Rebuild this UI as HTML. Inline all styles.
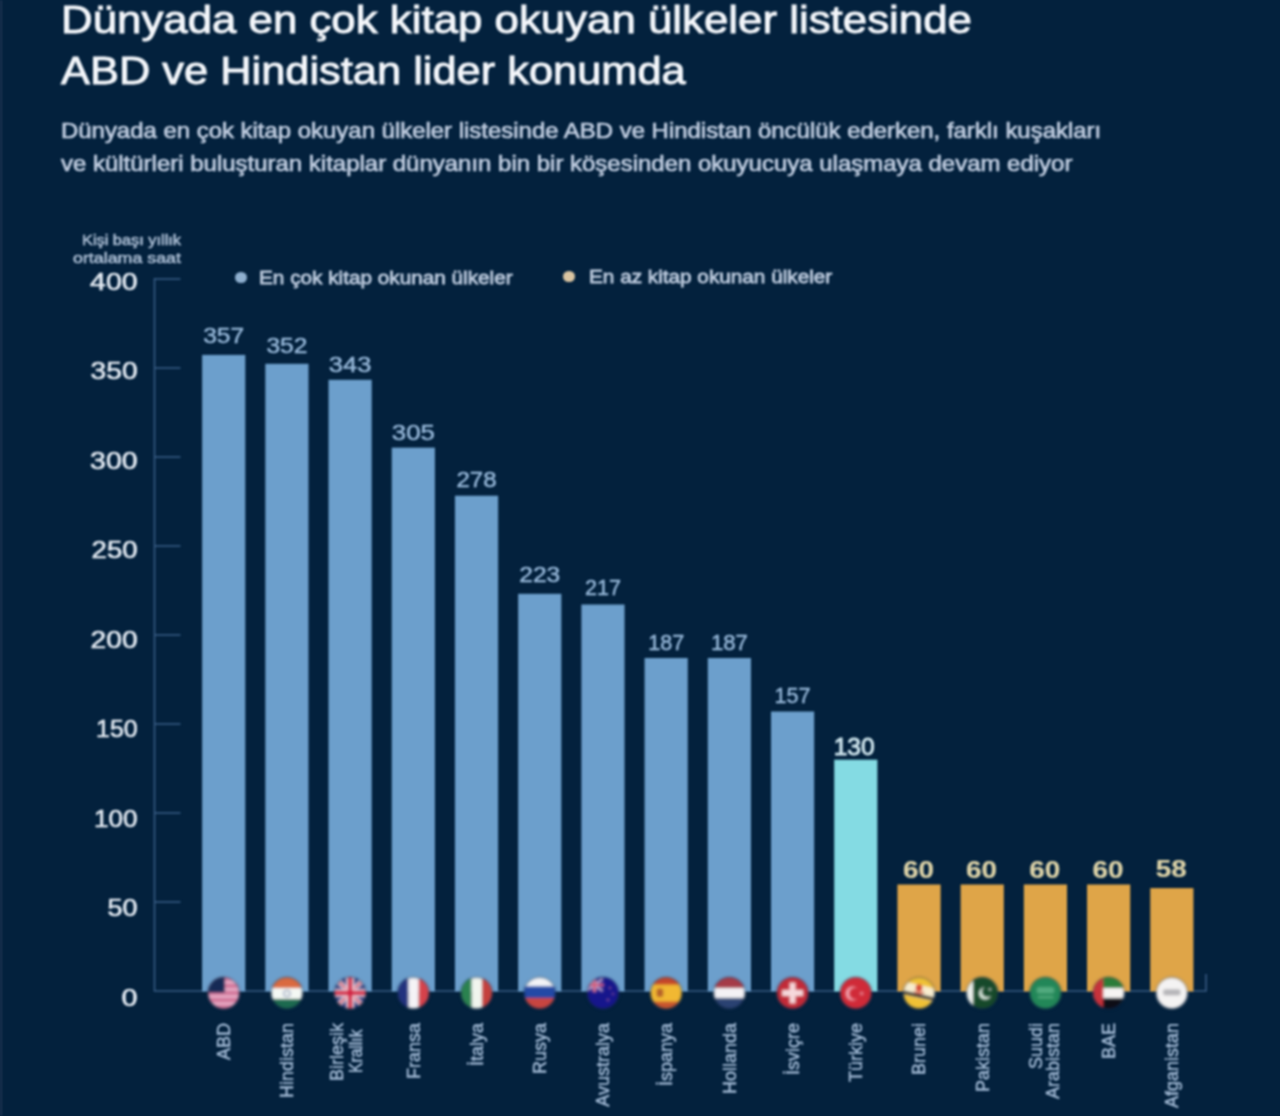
<!DOCTYPE html>
<html lang="tr">
<head>
<meta charset="utf-8">
<title>Dünyada en çok kitap okuyan ülkeler</title>
<style>
html,body{margin:0;padding:0;background:#03213d;}
body{width:1280px;height:1116px;overflow:hidden;position:relative;font-family:"Liberation Sans", sans-serif;}
#pg{position:absolute;left:0;top:0;width:1280px;height:1116px;filter:blur(0.9px);}
.abs{position:absolute;white-space:nowrap;transform-origin:0 0;}
.title{left:61px;font-size:38px;line-height:44px;color:#f4f7fb;-webkit-text-stroke:0.9px #f4f7fb;transform:scaleX(1.153);}
.sub{left:61px;font-size:21.5px;line-height:26px;color:#c0cde0;-webkit-text-stroke:0.7px #c0cde0;}
.leg{font-size:18.5px;line-height:22px;color:#bccadd;-webkit-text-stroke:0.8px #bccadd;}
.dot{position:absolute;width:11.5px;height:11.5px;border-radius:50%;}
svg{position:absolute;left:0;top:0;}
svg text{font-family:"Liberation Sans", sans-serif;}
</style>
</head>
<body>
<div id="pg">
<div class="abs" style="left:0;top:0;width:2px;height:1116px;background:#1e3450;"></div>
<div class="abs title" style="top:-2.5px;">Dünyada en çok kitap okuyan ülkeler listesinde</div>
<div class="abs title" style="top:48.5px;transform:scaleX(1.142);">ABD ve Hindistan lider konumda</div>
<div class="abs sub" style="top:117.5px;transform:scaleX(1.113);">Dünyada en çok kitap okuyan ülkeler listesinde ABD ve Hindistan öncülük ederken, farklı kuşakları</div>
<div class="abs sub" style="top:150.5px;transform:scaleX(1.115);">ve kültürleri buluşturan kitaplar dünyanın bin bir köşesinden okuyucuya ulaşmaya devam ediyor</div>
<div class="dot" style="left:235.3px;top:271.8px;background:#8fb0d0;"></div>
<div class="abs leg" style="left:259px;top:266.8px;transform:scaleX(1.121);">En çok kitap okunan ülkeler</div>
<div class="dot" style="left:563.3px;top:270.8px;background:#dac5a2;"></div>
<div class="abs leg" style="left:589px;top:265.8px;transform:scaleX(1.121);">En az kitap okunan ülkeler</div>
<svg width="1280" height="1116" viewBox="0 0 1280 1116">

<g fill="none" stroke="#375b83" stroke-width="1.6">
<path d="M154.5 278 V991.0 H1206 V974"/>
<path d="M154.5 902.0 H180.5"/>
<path d="M154.5 813.0 H180.5"/>
<path d="M154.5 724.0 H180.5"/>
<path d="M154.5 635.0 H180.5"/>
<path d="M154.5 546.0 H180.5"/>
<path d="M154.5 457.0 H180.5"/>
<path d="M154.5 368.0 H180.5"/>
<path d="M154.5 279.0 H180.5"/>
</g>
<g font-size="23.5" fill="#e4ebf3" stroke="#e4ebf3" stroke-width="0.6" text-anchor="end">
<text x="137.6" y="289.8" textLength="47.5" lengthAdjust="spacingAndGlyphs">400</text>
<text x="137.6" y="379.3" textLength="47" lengthAdjust="spacingAndGlyphs">350</text>
<text x="137.6" y="468.7" textLength="47.5" lengthAdjust="spacingAndGlyphs">300</text>
<text x="137.6" y="558.2" textLength="46" lengthAdjust="spacingAndGlyphs">250</text>
<text x="137.6" y="647.7" textLength="47" lengthAdjust="spacingAndGlyphs">200</text>
<text x="137.6" y="737.2" textLength="41.5" lengthAdjust="spacingAndGlyphs">150</text>
<text x="137.6" y="826.6" textLength="43.5" lengthAdjust="spacingAndGlyphs">100</text>
<text x="137.6" y="916.1" textLength="30" lengthAdjust="spacingAndGlyphs">50</text>
<text x="137.6" y="1005.6" textLength="16" lengthAdjust="spacingAndGlyphs">0</text>
</g>
<g font-size="14" fill="#aec0d6" stroke="#aec0d6" stroke-width="0.5" text-anchor="end">
<text x="181" y="244.7" textLength="99" lengthAdjust="spacingAndGlyphs">Kişi başı yıllık</text>
<text x="181" y="263" textLength="108" lengthAdjust="spacingAndGlyphs">ortalama saat</text>
</g>
<rect x="202.10" y="354.9" width="43.2" height="636.6" fill="#6c9fcc"/>
<rect x="265.31" y="363.8" width="43.2" height="627.7" fill="#6c9fcc"/>
<rect x="328.52" y="379.8" width="43.2" height="611.7" fill="#6c9fcc"/>
<rect x="391.73" y="447.6" width="43.2" height="543.9" fill="#6c9fcc"/>
<rect x="454.94" y="495.7" width="43.2" height="495.8" fill="#6c9fcc"/>
<rect x="518.15" y="593.8" width="43.2" height="397.7" fill="#6c9fcc"/>
<rect x="581.36" y="604.5" width="43.2" height="387.0" fill="#6c9fcc"/>
<rect x="644.57" y="658.0" width="43.2" height="333.5" fill="#6c9fcc"/>
<rect x="707.78" y="658.0" width="43.2" height="333.5" fill="#6c9fcc"/>
<rect x="770.99" y="711.5" width="43.2" height="280.0" fill="#6c9fcc"/>
<rect x="834.20" y="759.7" width="43.2" height="231.8" fill="#84dbe3"/>
<rect x="897.41" y="884.5" width="43.2" height="107.0" fill="#dfa548"/>
<rect x="960.62" y="884.5" width="43.2" height="107.0" fill="#dfa548"/>
<rect x="1023.83" y="884.5" width="43.2" height="107.0" fill="#dfa548"/>
<rect x="1087.04" y="884.5" width="43.2" height="107.0" fill="#dfa548"/>
<rect x="1150.25" y="888.1" width="43.2" height="103.4" fill="#dfa548"/>
<text x="223.70" y="342.8" font-size="22.3" text-anchor="middle" fill="#9abbdc" stroke="#9abbdc" stroke-width="0.45" textLength="41" lengthAdjust="spacingAndGlyphs">357</text>
<text x="286.91" y="352.8" font-size="22.3" text-anchor="middle" fill="#9abbdc" stroke="#9abbdc" stroke-width="0.45" textLength="41" lengthAdjust="spacingAndGlyphs">352</text>
<text x="350.12" y="372.3" font-size="22.3" text-anchor="middle" fill="#9abbdc" stroke="#9abbdc" stroke-width="0.45" textLength="42.5" lengthAdjust="spacingAndGlyphs">343</text>
<text x="413.33" y="439.8" font-size="22.3" text-anchor="middle" fill="#9abbdc" stroke="#9abbdc" stroke-width="0.45" textLength="43" lengthAdjust="spacingAndGlyphs">305</text>
<text x="476.54" y="486.8" font-size="22.3" text-anchor="middle" fill="#9abbdc" stroke="#9abbdc" stroke-width="0.45" textLength="40" lengthAdjust="spacingAndGlyphs">278</text>
<text x="539.75" y="581.8" font-size="22.3" text-anchor="middle" fill="#9abbdc" stroke="#9abbdc" stroke-width="0.45" textLength="41" lengthAdjust="spacingAndGlyphs">223</text>
<text x="602.96" y="595.3" font-size="22.3" text-anchor="middle" fill="#9abbdc" stroke="#9abbdc" stroke-width="0.45" textLength="36" lengthAdjust="spacingAndGlyphs">217</text>
<text x="666.17" y="649.8" font-size="22.3" text-anchor="middle" fill="#9abbdc" stroke="#9abbdc" stroke-width="0.45" textLength="36" lengthAdjust="spacingAndGlyphs">187</text>
<text x="729.38" y="649.8" font-size="22.3" text-anchor="middle" fill="#9abbdc" stroke="#9abbdc" stroke-width="0.45" textLength="37" lengthAdjust="spacingAndGlyphs">187</text>
<text x="792.59" y="703.3" font-size="22.3" text-anchor="middle" fill="#9abbdc" stroke="#9abbdc" stroke-width="0.45" textLength="36" lengthAdjust="spacingAndGlyphs">157</text>
<text x="854.20" y="754.8" font-size="23.6" text-anchor="middle" fill="#cfe5ed" stroke="#cfe5ed" stroke-width="0.9" textLength="41" lengthAdjust="spacingAndGlyphs">130</text>
<text x="918.41" y="877.8" font-size="23.6" text-anchor="middle" fill="#ddd3a8" stroke="#ddd3a8" stroke-width="0.2" font-weight="bold" textLength="31" lengthAdjust="spacingAndGlyphs">60</text>
<text x="981.62" y="877.8" font-size="23.6" text-anchor="middle" fill="#ddd3a8" stroke="#ddd3a8" stroke-width="0.2" font-weight="bold" textLength="31" lengthAdjust="spacingAndGlyphs">60</text>
<text x="1044.83" y="877.8" font-size="23.6" text-anchor="middle" fill="#ddd3a8" stroke="#ddd3a8" stroke-width="0.2" font-weight="bold" textLength="31" lengthAdjust="spacingAndGlyphs">60</text>
<text x="1108.04" y="877.8" font-size="23.6" text-anchor="middle" fill="#ddd3a8" stroke="#ddd3a8" stroke-width="0.2" font-weight="bold" textLength="31" lengthAdjust="spacingAndGlyphs">60</text>
<text x="1171.25" y="877.3" font-size="23.6" text-anchor="middle" fill="#ddd3a8" stroke="#ddd3a8" stroke-width="0.2" font-weight="bold" textLength="31" lengthAdjust="spacingAndGlyphs">58</text>
<g font-size="18" fill="#a0b8d3" stroke="#a0b8d3" stroke-width="0.5" text-anchor="end">
<text transform="translate(230.00 1023) rotate(-90)">ABD</text>
<text transform="translate(293.21 1023) rotate(-90)">Hindistan</text>
<text transform="translate(343.3 1023) rotate(-90)">Birleşik</text>
<text transform="translate(362 1029.5) rotate(-90)" textLength="43.5" lengthAdjust="spacingAndGlyphs">Krallık</text>
<text transform="translate(419.63 1023) rotate(-90)">Fransa</text>
<text transform="translate(482.84 1023) rotate(-90)">İtalya</text>
<text transform="translate(546.05 1023) rotate(-90)">Rusya</text>
<text transform="translate(609.26 1023) rotate(-90)">Avustralya</text>
<text transform="translate(672.47 1023) rotate(-90)">İspanya</text>
<text transform="translate(735.68 1023) rotate(-90)">Hollanda</text>
<text transform="translate(798.89 1023) rotate(-90)">İsviçre</text>
<text transform="translate(862.10 1023) rotate(-90)">Türkiye</text>
<text transform="translate(925.31 1023) rotate(-90)">Brunei</text>
<text transform="translate(988.52 1023) rotate(-90)">Pakistan</text>
<text transform="translate(1042.23 1023) rotate(-90)">Suudi</text>
<text transform="translate(1059.23 1023) rotate(-90)">Arabistan</text>
<text transform="translate(1114.94 1023) rotate(-90)">BAE</text>
<text transform="translate(1178.15 1023) rotate(-90)">Afganistan</text>
</g>
<defs><clipPath id="fc"><circle cx="0" cy="0" r="15.7"/></clipPath><filter id="fb" x="-20%" y="-20%" width="140%" height="140%"><feGaussianBlur stdDeviation="0.9"/></filter></defs>
<g filter="url(#fb)">
<g transform="translate(223.70 993)"><g clip-path="url(#fc)"><rect x="-16" y="-16" width="32" height="32" fill="#e6a9c4"/><rect x="-16" y="-16.00" width="32" height="3.56" fill="#cf6f94"/><rect x="-16" y="-8.89" width="32" height="3.56" fill="#cf6f94"/><rect x="-16" y="-1.78" width="32" height="3.56" fill="#cf6f94"/><rect x="-16" y="5.33" width="32" height="3.56" fill="#cf6f94"/><rect x="-16" y="12.44" width="32" height="3.56" fill="#cf6f94"/><rect x="-16" y="-16" width="17" height="15.5" fill="#172a55"/></g><circle cx="0" cy="0" r="15.7" fill="none" stroke="#1a2c47" stroke-opacity="0.55" stroke-width="1.2"/></g>
<g transform="translate(286.91 993)"><g clip-path="url(#fc)"><rect x="-16" y="-16" width="32" height="11" fill="#da6a40"/><rect x="-16" y="-5" width="32" height="11" fill="#f4f8f4"/><rect x="-16" y="6" width="32" height="11" fill="#1f6b4f"/><circle cx="0" cy="0.5" r="3.2" fill="none" stroke="#8a97b8" stroke-width="1.2"/></g><circle cx="0" cy="0" r="15.7" fill="none" stroke="#1a2c47" stroke-opacity="0.55" stroke-width="1.2"/></g>
<g transform="translate(350.12 993)"><g clip-path="url(#fc)"><rect x="-16" y="-16" width="32" height="32" fill="#2b3a80"/><path d="M-16 -16 L16 16 M16 -16 L-16 16" stroke="#f1dfe8" stroke-width="4.6"/><path d="M-16 -16 L16 16 M16 -16 L-16 16" stroke="#d23a55" stroke-width="1.8"/><path d="M0 -16 V16 M-16 0 H16" stroke="#f1dfe8" stroke-width="7.6"/><path d="M0 -16 V16 M-16 0 H16" stroke="#d21f40" stroke-width="4.4"/></g><circle cx="0" cy="0" r="15.7" fill="none" stroke="#1a2c47" stroke-opacity="0.55" stroke-width="1.2"/></g>
<g transform="translate(413.33 993)"><g clip-path="url(#fc)"><rect x="-16" y="-16" width="11" height="32" fill="#20327e"/><rect x="-5" y="-16" width="10.5" height="32" fill="#f5f3f6"/><rect x="5.5" y="-16" width="11" height="32" fill="#d6434c"/></g><circle cx="0" cy="0" r="15.7" fill="none" stroke="#1a2c47" stroke-opacity="0.55" stroke-width="1.2"/></g>
<g transform="translate(476.54 993)"><g clip-path="url(#fc)"><rect x="-16" y="-16" width="11" height="32" fill="#2c8250"/><rect x="-5" y="-16" width="10.5" height="32" fill="#f1f5ee"/><rect x="5.5" y="-16" width="11" height="32" fill="#c4403c"/></g><circle cx="0" cy="0" r="15.7" fill="none" stroke="#1a2c47" stroke-opacity="0.55" stroke-width="1.2"/></g>
<g transform="translate(539.75 993)"><g clip-path="url(#fc)"><rect x="-16" y="-16" width="32" height="9.5" fill="#f3f4f7"/><rect x="-16" y="-6.5" width="32" height="11.5" fill="#2349a6"/><rect x="-16" y="5" width="32" height="11.5" fill="#c7453f"/></g><circle cx="0" cy="0" r="15.7" fill="none" stroke="#1a2c47" stroke-opacity="0.55" stroke-width="1.2"/></g>
<g transform="translate(602.96 993)"><g clip-path="url(#fc)"><rect x="-16" y="-16" width="32" height="32" fill="#15188c"/><g transform="translate(-8.5 -8)"><path d="M-8 -6 L8 6 M8 -6 L-8 6" stroke="#c9a9cf" stroke-width="2"/><path d="M0 -7 V7 M-9 0 H9" stroke="#d9b4d2" stroke-width="3.2"/><path d="M0 -7 V7 M-9 0 H9" stroke="#cf3f60" stroke-width="1.8"/></g><polygon points="7.00,-6.50 7.35,-5.49 8.43,-5.46 7.57,-4.81 7.88,-3.79 7.00,-4.40 6.12,-3.79 6.43,-4.81 5.57,-5.46 6.65,-5.49" fill="#b86a9a"/><polygon points="10.00,-0.30 10.31,0.58 11.24,0.60 10.49,1.16 10.76,2.05 10.00,1.52 9.24,2.05 9.51,1.16 8.76,0.60 9.69,0.58" fill="#b86a9a"/><polygon points="5.00,5.50 5.35,6.51 6.43,6.54 5.57,7.19 5.88,8.21 5.00,7.60 4.12,8.21 4.43,7.19 3.57,6.54 4.65,6.51" fill="#b86a9a"/></g><circle cx="0" cy="0" r="15.7" fill="none" stroke="#1a2c47" stroke-opacity="0.55" stroke-width="1.2"/></g>
<g transform="translate(666.17 993)"><g clip-path="url(#fc)"><rect x="-16" y="-16" width="32" height="32" fill="#f1b832"/><rect x="-16" y="-16" width="32" height="7.6" fill="#c5452c"/><rect x="-16" y="8.6" width="32" height="7.6" fill="#c8552f"/><rect x="-9.5" y="-4.5" width="6.5" height="8.5" rx="2" fill="#b5602a"/></g><circle cx="0" cy="0" r="15.7" fill="none" stroke="#1a2c47" stroke-opacity="0.55" stroke-width="1.2"/></g>
<g transform="translate(729.38 993)"><g clip-path="url(#fc)"><rect x="-16" y="-16" width="32" height="11" fill="#a53a46"/><rect x="-16" y="-5" width="32" height="10.5" fill="#f3f2f5"/><rect x="-16" y="5.5" width="32" height="11" fill="#2c4272"/></g><circle cx="0" cy="0" r="15.7" fill="none" stroke="#1a2c47" stroke-opacity="0.55" stroke-width="1.2"/></g>
<g transform="translate(792.59 993)"><g clip-path="url(#fc)"><rect x="-16" y="-16" width="32" height="32" fill="#c22c38"/><path d="M0 -10.5 V10.5 M-10.5 0 H10.5" stroke="#f6d9dc" stroke-width="6"/></g><circle cx="0" cy="0" r="15.7" fill="none" stroke="#1a2c47" stroke-opacity="0.55" stroke-width="1.2"/></g>
<g transform="translate(855.80 993)"><g clip-path="url(#fc)"><rect x="-16" y="-16" width="32" height="32" fill="#d02a38"/><circle cx="-3" cy="0.5" r="7" fill="#f3a3b0"/><circle cx="-0.8" cy="0.5" r="5.9" fill="#d02a38"/><polygon points="5.00,-1.97 6.12,-0.49 7.90,-1.03 6.84,0.50 7.90,2.03 6.12,1.49 5.00,2.97 4.96,1.11 3.20,0.50 4.96,-0.11" fill="#ee8f9f"/></g><circle cx="0" cy="0" r="15.7" fill="none" stroke="#1a2c47" stroke-opacity="0.55" stroke-width="1.2"/></g>
<g transform="translate(919.01 993)"><g clip-path="url(#fc)"><rect x="-16" y="-16" width="32" height="32" fill="#f0c136"/><path d="M-18 -5.5 L18 2.5" stroke="#f8edcf" stroke-width="13"/><path d="M-18 -1.2 L18 6.8" stroke="#231d1c" stroke-width="3.2"/><ellipse cx="0" cy="-5" rx="3.3" ry="3.8" fill="#d5452f"/><path d="M-5 -1.5 Q0 1.5 5 -0.5" stroke="#d5452f" stroke-width="1.4" fill="none"/></g><circle cx="0" cy="0" r="15.7" fill="none" stroke="#1a2c47" stroke-opacity="0.55" stroke-width="1.2"/></g>
<g transform="translate(982.22 993)"><g clip-path="url(#fc)"><rect x="-16" y="-16" width="32" height="32" fill="#124a2b"/><rect x="-16" y="-16" width="7" height="32" fill="#eef3ee"/><circle cx="3" cy="0.3" r="6.2" fill="#dfeee2"/><circle cx="5" cy="-1.3" r="5.4" fill="#124a2b"/><polygon points="8.40,-5.32 8.26,-3.97 9.49,-3.37 8.16,-3.08 7.96,-1.73 7.28,-2.91 5.94,-2.68 6.85,-3.69 6.21,-4.90 7.45,-4.35" fill="#dfeee2"/></g><circle cx="0" cy="0" r="15.7" fill="none" stroke="#1a2c47" stroke-opacity="0.55" stroke-width="1.2"/></g>
<g transform="translate(1045.43 993)"><g clip-path="url(#fc)"><rect x="-16" y="-16" width="32" height="32" fill="#238758"/><rect x="-8.5" y="-5.5" width="17" height="5.6" rx="1.5" fill="#6cc197" opacity="0.85"/><path d="M-7.5 -3.6 H7.5 M-7.5 -1.6 H7.5" stroke="#238758" stroke-width="0.8" stroke-dasharray="2.2 1"/><path d="M-7 4.2 H7.5" stroke="#5fb98a" stroke-width="1.5" stroke-linecap="round"/></g><circle cx="0" cy="0" r="15.7" fill="none" stroke="#1a2c47" stroke-opacity="0.55" stroke-width="1.2"/></g>
<g transform="translate(1108.64 993)"><g clip-path="url(#fc)"><rect x="-16" y="-16" width="32" height="11" fill="#2a7d38"/><rect x="-16" y="-5" width="32" height="10.5" fill="#f6f4f2"/><rect x="-16" y="5.5" width="32" height="11" fill="#0c0c12"/><rect x="-16" y="-16" width="10.5" height="32" fill="#c7303a"/></g><circle cx="0" cy="0" r="15.7" fill="none" stroke="#1a2c47" stroke-opacity="0.55" stroke-width="1.2"/></g>
<g transform="translate(1171.85 993)"><g clip-path="url(#fc)"><rect x="-16" y="-16" width="32" height="32" fill="#f4f3f3"/><rect x="-8.5" y="-3.6" width="17" height="5.8" rx="1.6" fill="#a7a7ac"/><path d="M-7 -1.6 H7 M-7 0.4 H7" stroke="#e4e3e2" stroke-width="0.7" stroke-dasharray="2 1"/></g><circle cx="0" cy="0" r="15.7" fill="none" stroke="#1a2c47" stroke-opacity="0.55" stroke-width="1.2"/></g>
</g>
</svg>
</div>
</body>
</html>
